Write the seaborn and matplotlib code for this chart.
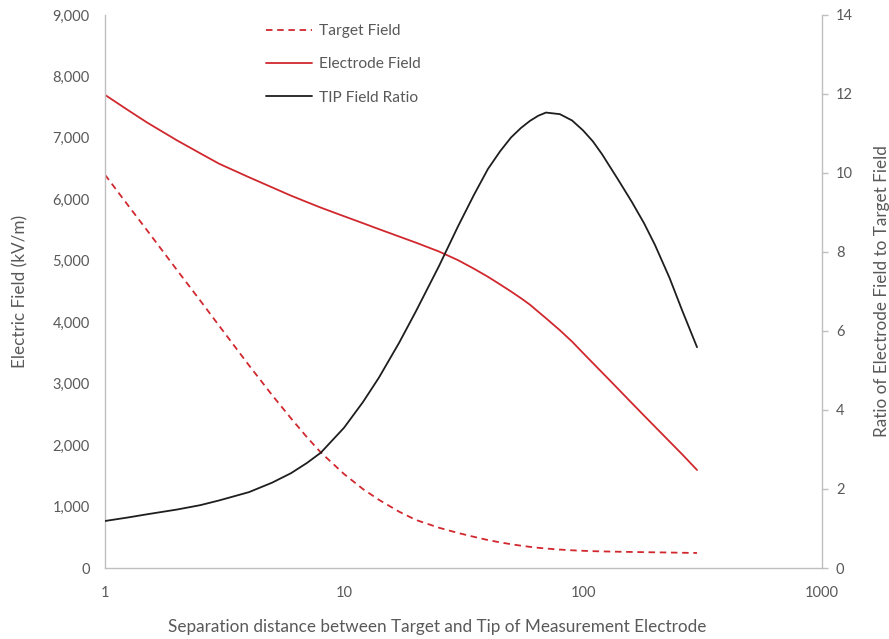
import matplotlib
matplotlib.use("Agg")
import matplotlib.pyplot as plt
from matplotlib.ticker import FuncFormatter, FixedLocator, NullLocator
import seaborn as sns
import pandas as pd

# Separation distance between target and electrode tip
distance = [1, 1.25, 1.5, 2, 2.5, 3, 4, 5, 6, 7, 8, 10, 12, 14, 17, 20, 25, 30, 35, 40,
            45, 50, 55, 60, 65, 70, 80, 90, 100, 110, 120, 140, 160, 180, 200, 230, 260, 300]

# Field at the target (kV/m)
target_field = [6400, 5900, 5495, 4850, 4355, 3945, 3300, 2815, 2436, 2128, 1880, 1530,
                1285, 1110, 917, 782, 655, 570, 507, 455, 417, 387, 363, 344, 329, 317,
                300, 288, 280, 274, 270, 265, 261, 258, 255, 252, 248, 245]

# Field at the measurement electrode (kV/m)
electrode_field = [7700, 7450, 7250, 6960, 6750, 6580, 6360, 6195, 6060, 5955, 5865, 5725,
                   5612, 5515, 5395, 5295, 5150, 5010, 4870, 4740, 4615, 4500, 4391, 4285,
                   4170, 4065, 3870, 3685, 3500, 3335, 3185, 2918, 2685, 2481, 2300, 2060,
                   1850, 1595]

# Ratio of electrode field to target field
field_ratio = [1.19, 1.28, 1.36, 1.48, 1.59, 1.71, 1.92, 2.16, 2.40, 2.66, 2.92, 3.55, 4.2,
               4.82, 5.7, 6.5, 7.65, 8.65, 9.45, 10.1, 10.55, 10.9, 11.14, 11.32, 11.45,
               11.53, 11.49, 11.33, 11.08, 10.80, 10.48, 9.84, 9.27, 8.73, 8.18, 7.35, 6.52,
               5.59]

x_ticks = [1, 10, 100, 1000]
left_ticks = [0, 1000, 2000, 3000, 4000, 5000, 6000, 7000, 8000, 9000]
right_ticks = [0, 2, 4, 6, 8, 10, 12, 14]

df = pd.DataFrame({
    "distance": distance,
    "Target Field": target_field,
    "Electrode Field": electrode_field,
    "TIP Field Ratio": field_ratio,
})

sns.set_theme(style="white")
plt.rcParams["font.family"] = ["Lato", "DejaVu Sans"]

TEXT = "#595959"
AXIS = "#bfbfbf"
RED = "#d0282e"
BLACK = "#1e1e1e"

fig = plt.figure(figsize=(8.89, 6.39), dpi=100)
ax = fig.add_axes([105 / 889, 1 - 568 / 639, (822 - 105) / 889, (568 - 15) / 639])
ax2 = ax.twinx()

sns.lineplot(data=df, x="distance", y="Target Field", ax=ax, color=RED, lw=1.3,
             label="Target Field", legend=False)
ax.lines[-1].set_dashes((3.6, 2.6))
sns.lineplot(data=df, x="distance", y="Electrode Field", ax=ax, color=RED, lw=1.3,
             label="Electrode Field", legend=False)
sns.lineplot(data=df, x="distance", y="TIP Field Ratio", ax=ax2, color=BLACK, lw=1.3,
             label="TIP Field Ratio", legend=False)

ax.set_xscale("log")
ax.set_xlim(1, 1000)
ax.set_ylim(0, 9000)
ax2.set_ylim(0, 14)

ax.xaxis.set_major_locator(FixedLocator(x_ticks))
ax.xaxis.set_minor_locator(NullLocator())
ax.xaxis.set_major_formatter(FuncFormatter(lambda v, p: f"{v:g}"))
ax.set_yticks(left_ticks)
ax.yaxis.set_major_formatter(FuncFormatter(lambda v, p: f"{v:,.0f}"))
ax2.set_yticks(right_ticks)

ax.spines["top"].set_visible(False)
ax2.spines["top"].set_visible(False)
ax.spines["right"].set_visible(False)
for s in ["left", "bottom"]:
    ax.spines[s].set_color(AXIS)
    ax.spines[s].set_linewidth(1.0)
ax2.spines["right"].set_color(AXIS)
ax2.spines["right"].set_linewidth(1.0)
ax2.spines["left"].set_visible(False)
ax2.spines["bottom"].set_visible(False)

ax.tick_params(axis="x", length=0, pad=13, labelsize=10.5, labelcolor=TEXT)
ax.tick_params(axis="y", length=0, pad=11, labelsize=10.5, labelcolor=TEXT)
ax2.tick_params(axis="y", right=True, direction="out", length=4, width=1.0, color=AXIS,
                pad=6, labelsize=10.5, labelcolor=TEXT)

ax.set_xlabel("Separation distance between Target and Tip of Measurement Electrode",
              fontsize=12.3, color=TEXT, labelpad=13)
ax.xaxis.set_label_coords(0.463, -0.092)
ax.set_ylabel("Electric Field (kV/m)", fontsize=12.3, color=TEXT, labelpad=17)
ax2.set_ylabel("Ratio of Electrode Field to Target Field", fontsize=12.3, color=TEXT,
               labelpad=15)

handles = ax.get_lines() + ax2.get_lines()
labels = ["Target Field", "Electrode Field", "TIP Field Ratio"]
leg = ax.legend(handles, labels, loc="upper left", bbox_to_anchor=(0.2056, 1.009),
                frameon=False, fontsize=11.2, labelspacing=1.25, handlelength=2.9,
                handletextpad=0.5)
for t in leg.get_texts():
    t.set_color(TEXT)

ax.grid(False)
ax2.grid(False)

fig.savefig("out.png", dpi=100)
